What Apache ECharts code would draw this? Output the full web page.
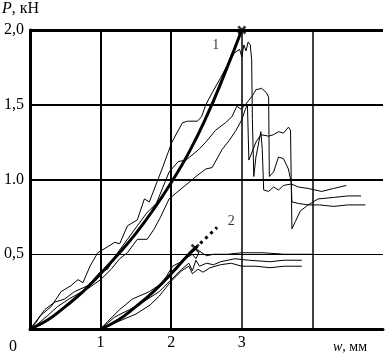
<!DOCTYPE html>
<html>
<head>
<meta charset="utf-8">
<script src="https://cdn.jsdelivr.net/npm/echarts@6/dist/echarts.min.js"></script>
<style>
  html, body { margin: 0; background: #fff; }
  #chart { width: 386px; height: 355px; }
</style>
</head>
<body>
<div id="chart"></div>
<script>
// tick labels
const xTicks = ["0", "1", "2", "3", "", ""];
const yTicks = ["", "0,5", "1.0", "1,5", "2,0"];
const gridX = [1, 2, 3, 4];
const gridY = [0.5, 1, 1.5, 2];

// curve 1, calculated
const theory1W = [0, 0.25, 0.5, 0.75, 1, 1.25, 1.5, 1.75, 2, 2.25, 2.5, 2.75, 3];
const theory1P = [0, 0.06, 0.15, 0.25, 0.37, 0.5, 0.64, 0.8, 0.98, 1.18, 1.42, 1.7, 2.0];
// curve 2, calculated (solid part, then dotted part)
const theory2W = [1, 1.25, 1.5, 1.75, 2, 2.25, 2.34];
const theory2P = [0, 0.06, 0.15, 0.25, 0.37, 0.5, 0.54];
const dots2W = [2.34, 2.65];
const dots2P = [0.54, 0.68];

// group 1, tests
const testAW = [0, 0.08, 0.15, 0.3, 0.44, 0.58, 0.68, 0.75, 0.85, 0.96, 1.1, 1.2, 1.27, 1.38, 1.52, 1.62, 1.69, 1.87, 2.01, 2.16, 2.23, 2.37, 2.43, 2.49, 2.58, 2.7, 2.8, 2.9, 2.97, 3.0, 3.03, 3.06, 3.09, 3.12, 3.14, 3.15, 3.17, 3.2, 3.27, 3.29, 3.31, 3.38, 3.45, 3.52, 3.59, 3.7, 3.8, 3.94, 4.13, 4.3, 4.48];
const testAP = [0, 0.04, 0.09, 0.15, 0.25, 0.29, 0.33, 0.31, 0.42, 0.51, 0.55, 0.58, 0.57, 0.69, 0.73, 0.87, 0.85, 1.07, 1.25, 1.38, 1.39, 1.39, 1.42, 1.5, 1.58, 1.68, 1.77, 1.85, 1.87, 1.82, 1.9, 1.86, 1.92, 1.9, 1.8, 1.4, 1.02, 1.15, 1.32, 1.2, 0.93, 0.92, 0.95, 0.93, 0.96, 0.97, 0.95, 0.94, 0.92, 0.94, 0.96];
const testBW = [0, 0.1, 0.21, 0.35, 0.49, 0.63, 0.82, 0.99, 1.1, 1.21, 1.38, 1.52, 1.66, 1.79, 1.97, 2.1, 2.21, 2.39, 2.49, 2.63, 2.77, 2.86, 2.93, 2.99, 3.05, 3.1, 3.15, 3.2, 3.28, 3.35, 3.38, 3.39, 3.45, 3.52, 3.59, 3.66, 3.7, 3.71, 3.8, 3.94, 4.1, 4.3, 4.5, 4.75];
const testBP = [0, 0.06, 0.13, 0.18, 0.2, 0.25, 0.29, 0.38, 0.4, 0.49, 0.6, 0.69, 0.78, 0.84, 1.05, 1.12, 1.13, 1.2, 1.25, 1.33, 1.38, 1.42, 1.49, 1.47, 1.5, 1.53, 1.56, 1.6, 1.61, 1.58, 1.55, 1.02, 1.05, 1.15, 1.14, 1.07, 0.98, 0.85, 0.84, 0.83, 0.83, 0.82, 0.83, 0.83];
const testCW = [0, 0.1, 0.25, 0.39, 0.55, 0.7, 0.82, 1.0, 1.15, 1.27, 1.38, 1.52, 1.66, 1.76, 1.85, 1.97, 2.07, 2.2, 2.35, 2.49, 2.58, 2.72, 2.82, 2.92, 3.0, 3.05, 3.08, 3.1, 3.2, 3.27, 3.38, 3.45, 3.52, 3.59, 3.66, 3.69, 3.71, 3.76, 3.83, 3.94, 4.08, 4.3, 4.5, 4.69];
const testCP = [0, 0.03, 0.09, 0.15, 0.2, 0.24, 0.27, 0.33, 0.4, 0.47, 0.51, 0.6, 0.6, 0.67, 0.75, 0.87, 0.91, 0.96, 1.02, 1.07, 1.08, 1.2, 1.26, 1.33, 1.4, 1.47, 1.5, 1.13, 1.25, 1.3, 1.29, 1.3, 1.32, 1.31, 1.35, 1.33, 0.67, 0.72, 0.79, 0.83, 0.87, 0.88, 0.89, 0.89];

// group 2, tests
const testDW = [1, 1.1, 1.27, 1.45, 1.69, 1.85, 1.93, 2.02, 2.1, 2.2, 2.3, 2.35, 2.4, 2.5, 2.6, 2.8, 3.0, 3.3, 3.6, 3.99];
const testDP = [0, 0.05, 0.13, 0.2, 0.25, 0.3, 0.35, 0.42, 0.44, 0.47, 0.5, 0.47, 0.52, 0.49, 0.5, 0.5, 0.51, 0.51, 0.5, 0.5];
const testEW = [1, 1.2, 1.41, 1.6, 1.83, 2.0, 2.15, 2.25, 2.3, 2.35, 2.4, 2.5, 2.6, 2.7, 2.9, 3.1, 3.4, 3.6, 3.85];
const testEP = [0, 0.08, 0.13, 0.18, 0.25, 0.33, 0.4, 0.44, 0.39, 0.46, 0.42, 0.44, 0.43, 0.45, 0.47, 0.46, 0.45, 0.46, 0.46];
const testFW = [1, 1.25, 1.5, 1.7, 1.83, 2.0, 2.15, 2.25, 2.3, 2.38, 2.45, 2.55, 2.7, 2.85, 3.0, 3.2, 3.4, 3.6, 3.85];
const testFP = [0, 0.05, 0.1, 0.16, 0.22, 0.32, 0.39, 0.42, 0.37, 0.4, 0.38, 0.41, 0.43, 0.44, 0.42, 0.42, 0.41, 0.42, 0.42];

// curve numbers
const curveLabels = [["1", 2.63, 1.9], ["2", 2.85, 0.72]];

const zip = (w, p) => w.map((v, i) => [v, p[i]]);
const font = "'Liberation Serif', 'DejaVu Serif', serif";
const cross = "path://M2,0L5,3L8,0L10,2L7,5L10,8L8,10L5,7L2,10L0,8L3,5L0,2Z";

function thin(w, p) {
  return {
    type: "line", data: zip(w, p), showSymbol: false, silent: true,
    lineStyle: { color: "#000", width: 1 }
  };
}

const chart = echarts.init(document.getElementById("chart"));
chart.setOption({
  animation: false,
  grid: { left: 30, right: 1, top: 30, bottom: 25 },
  xAxis: {
    type: "value", min: 0, max: 5, interval: 1,
    axisLine: { lineStyle: { color: "#000", width: 3 } },
    axisTick: { show: false },
    splitLine: { show: false },
    axisLabel: {
      margin: 6, color: "#000", fontFamily: font, fontSize: 16,
      formatter: (v) => {
        const t = xTicks[Math.round(v)];
        return v === 0 ? "{z|" + t + "}" : t;
      },
      rich: { z: { fontFamily: font, fontSize: 16, color: "#000", padding: [4, 34, 0, 0] } }
    }
  },
  yAxis: {
    type: "value", min: 0, max: 2, interval: 0.5,
    axisLine: { show: true, lineStyle: { color: "#000", width: 3 } },
    axisTick: { show: false },
    splitLine: { show: false },
    axisLabel: {
      margin: 6, color: "#000", fontFamily: font, fontSize: 16,
      formatter: (v) => yTicks[Math.round(v * 2)]
    }
  },
  graphic: [
    {
      type: "text", left: 2, top: 1,
      style: {
        text: "{i|P}, кН", fill: "#000", font: "16px " + font,
        rich: { i: { fontStyle: "italic", fontFamily: font, fontSize: 16 } }
      }
    },
    {
      type: "text", left: 333, top: 340,
      style: {
        text: "{i|w}, мм", fill: "#000", font: "14px " + font,
        rich: { i: { fontStyle: "italic", fontFamily: font, fontSize: 14 } }
      }
    }
  ],
  series: [
    {
      type: "line", data: [], silent: true,
      markLine: {
        silent: true, symbol: "none", label: { show: false },
        data: [
          ...gridX.map((x, i) => ({ xAxis: x, lineStyle: { color: "#000", type: "solid", width: [2, 2, 1.5, 1.5][i] } })),
          ...gridY.map((y, i) => ({ yAxis: y, lineStyle: { color: "#000", type: "solid", width: [1, 2, 2, 3][i] } }))
        ]
      }
    },
    thin(testAW, testAP),
    thin(testBW, testBP),
    thin(testCW, testCP),
    thin(testDW, testDP),
    thin(testEW, testEP),
    thin(testFW, testFP),
    {
      type: "line", data: zip(theory1W, theory1P), smooth: true, silent: true,
      showSymbol: false, lineStyle: { color: "#000", width: 3 }
    },
    {
      type: "line", data: zip(theory2W, theory2P), smooth: true, silent: true,
      showSymbol: false, lineStyle: { color: "#000", width: 3 }
    },
    {
      type: "line", data: zip(dots2W, dots2P), silent: true, showSymbol: false,
      lineStyle: { color: "#000", width: 3, type: [3, 4] }
    },
    {
      type: "scatter", silent: true, symbol: cross, symbolSize: 9,
      itemStyle: { color: "#000" },
      data: [zip(theory1W, theory1P).pop(), zip(theory2W, theory2P).pop()]
    },
    {
      type: "scatter", silent: true, symbolSize: 0,
      data: curveLabels.map((d) => ({ value: [d[1], d[2]], name: d[0] })),
      label: {
        show: true, position: "inside", formatter: "{b}",
        color: "#000", fontFamily: font, fontSize: 14
      }
    }
  ]
});
</script>
</body>
</html>
